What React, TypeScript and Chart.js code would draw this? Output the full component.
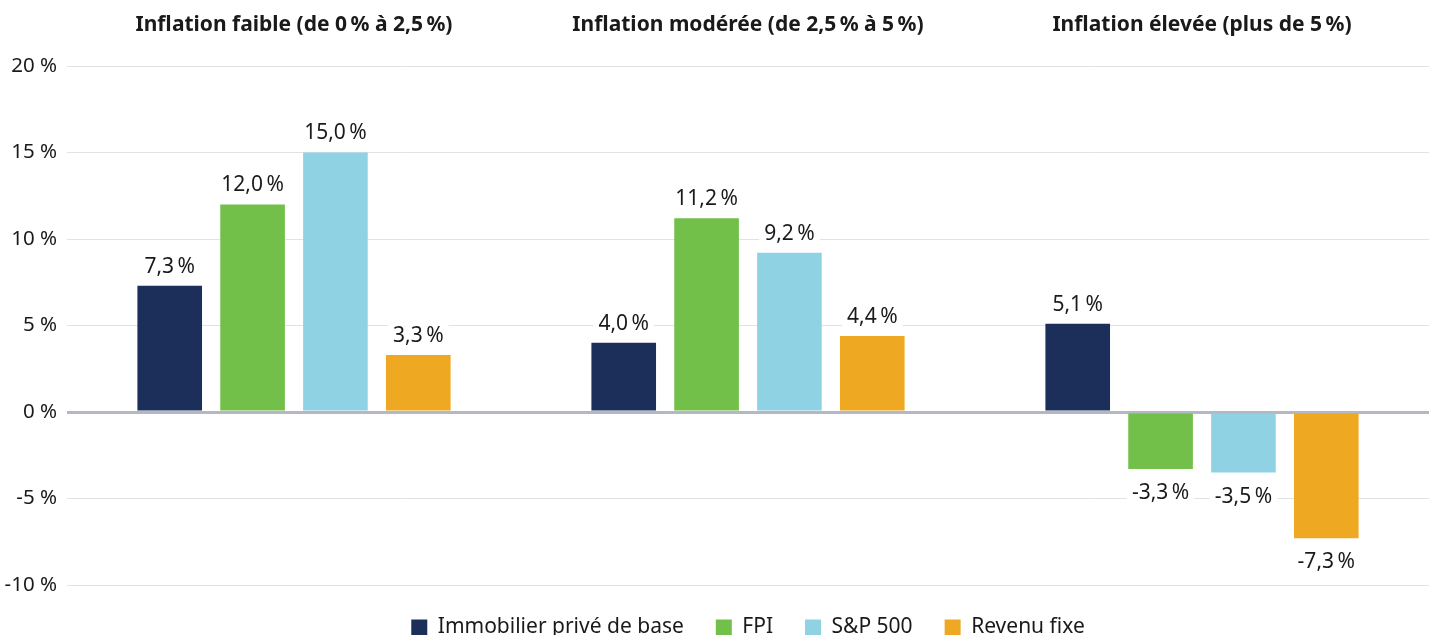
import React, { useEffect, useRef } from "react";
import { Chart, registerables } from "chart.js";

Chart.register(...registerables);

const NS = "\u202F";
const categories = [
  `Inflation faible (de 0${NS}% à 2,5${NS}%)`,
  `Inflation modérée (de 2,5${NS}% à 5${NS}%)`,
  `Inflation élevée (plus de 5${NS}%)`,
];
const seriesNames = ["Immobilier privé de base", "FPI", "S&P 500", "Revenu fixe"];
const immobilier = [7.3, 4.0, 5.1];
const fpi = [12.0, 11.2, -3.3];
const sp500 = [15.0, 9.2, -3.5];
const revenuFixe = [3.3, 4.4, -7.3];
const colors = ["#1b2f5a", "#72bf4a", "#8fd2e4", "#eea822"];
const yMin = -10;
const yMax = 20;
const yStep = 5;

const FONT = "'Noto Sans', 'Open Sans', sans-serif";

const fmt = (v: number) => v.toFixed(1).replace(".", ",") + NS + "%";

const labelPlugin = {
  id: "barLabels",
  afterDatasetsDraw(chart: any) {
    const ctx = chart.ctx;
    ctx.save();
    ctx.font = `21px ${FONT}`;
    ctx.textAlign = "center";
    ctx.textBaseline = "middle";
    chart.data.datasets.forEach((ds: any, i: number) => {
      const meta = chart.getDatasetMeta(i);
      meta.data.forEach((bar: any, j: number) => {
        const v = ds.data[j];
        const text = fmt(v);
        const y = v >= 0 ? bar.y - 19 : bar.y + 24;
        const w = ctx.measureText(text).width + 10;
        const h = 26;
        ctx.fillStyle = "#ffffff";
        ctx.fillRect(bar.x - w / 2, y - h / 2, w, h);
        ctx.fillStyle = "#1a1a1a";
        ctx.fillText(text, bar.x, y);
      });
    });
    ctx.restore();
  },
};

export default function App() {
  const ref = useRef<HTMLCanvasElement>(null);
  useEffect(() => {
    document.body.style.margin = "0";
    const data = [immobilier, fpi, sp500, revenuFixe];
    const chart = new Chart(ref.current!, {
      type: "bar",
      data: {
        labels: categories,
        datasets: seriesNames.map((name, i) => ({
          label: name,
          data: data[i],
          backgroundColor: colors[i],
          borderWidth: 0,
          categoryPercentage: 0.73,
          barPercentage: 0.78,
        })),
      },
      options: {
        animation: false,
        responsive: true,
        maintainAspectRatio: false,
        layout: { padding: { top: 0, left: 0, right: 0, bottom: 0 } },
        plugins: {
          tooltip: { enabled: false },
          legend: {
            position: "bottom",
            fullSize: false,
            labels: {
              boxWidth: 16,
              boxHeight: 16,
              padding: 32,
              color: "#1a1a1a",
              font: { family: FONT, size: 21 },
            },
          },
        },
        scales: {
          x: {
            position: "top",
            grid: { display: false, drawTicks: false },
            border: { display: false },
            afterFit: (s: any) => {
              s.height = 66;
            },
            ticks: {
              color: "#1a1a1a",
              padding: 28,
              maxRotation: 0,
              font: { family: FONT, size: 21, weight: "bold" },
            },
          },
          y: {
            min: yMin,
            max: yMax,
            border: { display: false },
            afterFit: (s: any) => {
              s.width = 67;
            },
            grid: {
              drawTicks: false,
              color: (c: any) => (c.tick && c.tick.value === 0 ? "#b3b8c2" : "#e0e2e6"),
              lineWidth: (c: any) => (c.tick && c.tick.value === 0 ? 3 : 1),
            },
            ticks: {
              stepSize: yStep,
              padding: 10,
              color: "#1a1a1a",
              font: { family: FONT, size: 20.5 },
              callback: (v: any) => `${v} %`,
            },
          },
        },
      },
      plugins: [labelPlugin],
    });
    return () => chart.destroy();
  }, []);
  return (
    <div style={{ width: 1429, height: 635, overflow: "hidden", position: "relative" }}>
      <div style={{ width: 1429, height: 648, position: "absolute", top: 0, left: 0 }}>
        <canvas ref={ref} />
      </div>
    </div>
  );
}
